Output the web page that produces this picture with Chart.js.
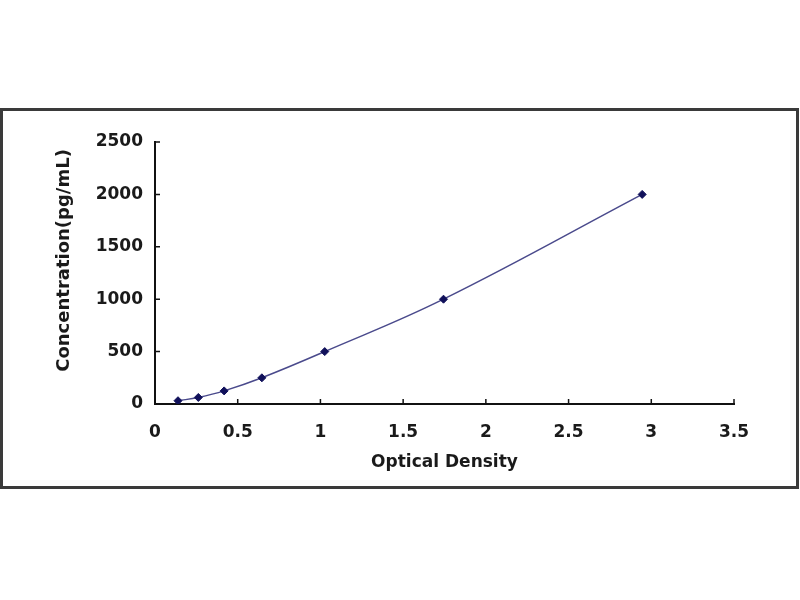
<!DOCTYPE html>
<html>
<head>
<meta charset="utf-8">
<title>Standard Curve</title>
<script src="https://cdn.jsdelivr.net/npm/chart.js"></script>
<style>
body { margin: 0; background: #fff; width: 800px; height: 600px; position: relative; overflow: hidden; }
#marco { position: absolute; left: 0; top: 108px; width: 799px; height: 381px; border: 3px solid #3a3a3a; box-sizing: border-box; background: #fff; }
#grafico { display: block; }
</style>
</head>
<body>
<div id="marco"><canvas id="grafico" width="793" height="375"></canvas></div>
<script>
// standard points
var densidad = [0.139, 0.262, 0.418, 0.646, 1.026, 1.744, 2.945];
var concentracion = [31.25, 62.5, 125, 250, 500, 1000, 2000];
var xTicks = [0, 0.5, 1, 1.5, 2, 2.5, 3, 3.5];
var yTicks = [0, 500, 1000, 1500, 2000, 2500];

var fuente = { family: "'DejaVu Sans', sans-serif", size: 17, weight: 'bold' };

// small tick marks pointing into the plot (like the excel chart)
var marcasInternas = {
    id: 'marcasInternas',
    beforeDatasetsDraw: function (chart) {
        var ctx = chart.ctx;
        var x = chart.scales.x;
        var y = chart.scales.y;
        var area = chart.chartArea;
        ctx.save();
        ctx.strokeStyle = '#111';
        ctx.lineWidth = 1.5;
        ctx.beginPath();
        x.ticks.forEach(function (t) {
            var px = x.getPixelForValue(t.value);
            ctx.moveTo(px, area.bottom);
            ctx.lineTo(px, area.bottom - 5);
        });
        y.ticks.forEach(function (t) {
            var py = y.getPixelForValue(t.value);
            ctx.moveTo(area.left, py);
            ctx.lineTo(area.left + 5, py);
        });
        ctx.stroke();
        ctx.restore();
    }
};

var puntos = [];
for (var i = 0; i < densidad.length; i++) {
    puntos.push({ x: densidad[i], y: concentracion[i] });
}

var ctx = document.getElementById('grafico').getContext('2d');
var chart = new Chart(ctx, {
    type: 'scatter',
    data: {
        datasets: [{
            data: puntos,
            showLine: true,
            tension: 0.4,
            borderColor: '#4a4a8c',
            borderWidth: 1.5,
            pointStyle: 'rectRot',
            pointRadius: 4,
            pointBackgroundColor: '#10105a',
            pointBorderColor: '#10105a',
            pointBorderWidth: 1
        }]
    },
    options: {
        responsive: false,
        animation: false,
        devicePixelRatio: 1,
        layout: { padding: { top: 31, right: 62, left: 0, bottom: 0 } },
        plugins: {
            legend: { display: false },
            tooltip: { enabled: false }
        },
        scales: {
            x: {
                type: 'linear',
                min: 0,
                max: 3.5,
                afterBuildTicks: function (scale) {
                    scale.ticks = xTicks.map(function (v) { return { value: v }; });
                },
                afterFit: function (scale) { scale.height = 82; },
                grid: { display: false, drawTicks: false },
                border: { display: true, color: '#111', width: 2 },
                ticks: {
                    padding: 18,
                    color: '#1a1a1a',
                    font: fuente,
                    maxRotation: 0,
                    autoSkip: false,
                    callback: function (v) { return String(v); }
                },
                title: {
                    display: true,
                    text: 'Optical Density',
                    color: '#1a1a1a',
                    font: fuente,
                    padding: { top: 0, bottom: 13 }
                }
            },
            y: {
                type: 'linear',
                min: 0,
                max: 2500,
                afterBuildTicks: function (scale) {
                    scale.ticks = yTicks.map(function (v) { return { value: v }; });
                },
                afterFit: function (scale) { scale.width = 152; },
                grid: { display: false, drawTicks: false },
                border: { display: true, color: '#111', width: 2 },
                ticks: {
                    padding: 12,
                    color: '#1a1a1a',
                    font: fuente,
                    autoSkip: false,
                    callback: function (v) { return String(v); }
                },
                title: {
                    display: true,
                    text: '\u00a0\u00a0\u00a0\u00a0Concentration(pg/mL)',
                    color: '#1a1a1a',
                    font: { family: "'DejaVu Sans', sans-serif", size: 18, weight: 'bold' },
                    padding: { top: 51, bottom: 0 }
                }
            }
        }
    },
    plugins: [marcasInternas]
});
</script>
</body>
</html>
